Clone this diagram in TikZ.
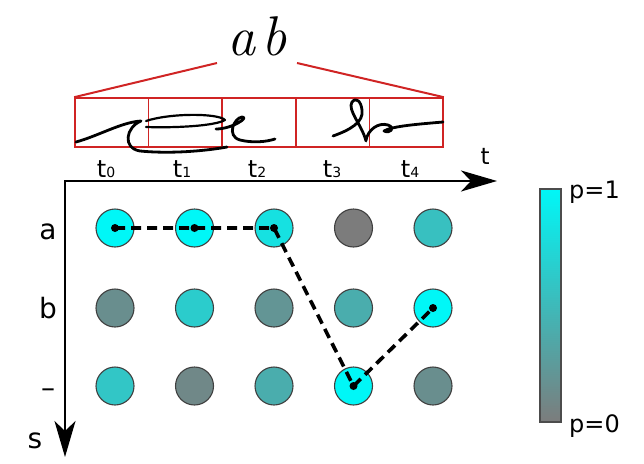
\documentclass[tikz,border=0pt]{standalone}
\usepackage{fontspec}
\setmainfont{DejaVu Sans}
\newfontfamily\handfont{Latin Modern Roman}
\usepackage{tikz}
\usetikzlibrary{positioning,arrows.meta,calc}
\definecolor{pone}{HTML}{00F7F7}
\definecolor{pzero}{HTML}{7C7C7C}
\definecolor{framered}{HTML}{D02424}

\begin{document}
\begin{tikzpicture}[x=1pt,y=-1pt,
  prob/.style={circle,draw=black!75,line width=1.1pt,minimum size=38pt,inner sep=0pt},
  cell/.style={draw=framered,line width=1.6pt,minimum width=73.6pt,minimum height=49pt,inner sep=0pt},
  frame/.style={framered,line width=2pt},
  lbl/.style={font=\fontsize{28}{28}\selectfont,anchor=base,inner sep=0pt},
  tick/.style={font=\fontsize{24}{24}\selectfont,anchor=base,inner sep=0pt},
  axis/.style={line width=2pt,{Stealth[length=36pt,width=21pt,inset=10pt]}-{Stealth[length=36pt,width=21pt,inset=10pt]}},
  route/.style={line width=3.6pt,dash pattern=on 10pt off 6pt},
  pen/.style={line width=2.8pt,line cap=round,line join=round},
  cbar/.style={draw=black!70,line width=1.1pt,top color=pone,bottom color=pzero,
               minimum width=21pt,minimum height=233pt,inner sep=0pt}]
\useasboundingbox (0,0) rectangle (644,463);

% handwritten word and its frames
\node[font=\fontsize{56}{56}\selectfont\handfont\itshape,inner sep=0pt] (word) at (257,36) {a\hspace{6pt}b};
\coordinate (wl) at (217,63);
\coordinate (wr) at (297,63);
\foreach \i in {0,...,4}
  \node[cell] (f\i) at ({111.8+73.6*\i},122.5) {};
\draw[frame] (f0.north west) -- (wl);
\draw[frame] (f4.north east) -- (wr);
% pen trace
\draw[pen] (76,142) .. controls (98,136) and (122,122) .. (141,121)
  .. controls (126,127) and (122,148) .. (140,151)
  .. controls (170,154) and (205,151) .. (227,147);
\draw[pen,line width=2.2pt] (146,127) .. controls (175,128) and (215,126) .. (225,120)
  .. controls (218,113) and (170,113) .. (146,121);
\draw[pen] (216,129) .. controls (232,129) and (250,117) .. (242,117)
  .. controls (234,118) and (226,136) .. (240,140)
  .. controls (252,143) and (266,142) .. (275,139);
\draw[pen] (333,136) .. controls (350,130) and (364,122) .. (362,110)
  .. controls (361,101) and (356,97) .. (352,102)
  .. controls (347,110) and (362,125) .. (366,141);
\draw[pen] (366,140) .. controls (368,130) and (378,122) .. (388,125)
  .. controls (396,128) and (390,134) .. (384,131)
  .. controls (392,126) and (420,124) .. (443,122);

% time labels
\node[tick] (t0) at (106,177) {t{\fontsize{14}{14}\selectfont 0}};
\node[tick] (t1) at (182,177) {t{\fontsize{14}{14}\selectfont 1}};
\node[tick] (t2) at (257,177) {t{\fontsize{14}{14}\selectfont 2}};
\node[tick] (t3) at (332,177) {t{\fontsize{14}{14}\selectfont 3}};
\node[tick] (t4) at (410,177) {t{\fontsize{14}{14}\selectfont 4}};

% axes
\coordinate (origin) at (65,181);
\coordinate (tend) at (497,181);
\coordinate (send) at (65,457);
\draw[axis] (tend) -- (origin) -- (send);
\node[lbl,font=\fontsize{23}{23}\selectfont] (tlab) at (485,164) {t};
\node[lbl] (slab) at (35,448) {s};
\node[lbl] (la) at (48,239) {a};
\node[lbl] (lb) at (48,318) {b};
\node[lbl] (le) at (48,397) {–};

% probability grid
\foreach \r/\y/\plist in {a/228/{100,100,82,0,55},b/308/{15,65,20,40,100},e/386/{60,10,40,100,15}}
  \foreach \p [count=\i from 0] in \plist
    \node[prob,fill=pone!\p!pzero] (\r\i) at ({115+79.5*\i},\y) {};

% best path
\draw[route] (a0.center) -- (a1.center) -- (a2.center) -- (e3.center) -- (b4.center);
\foreach \n in {a0,a1,a2,e3,b4}
  \fill (\n.center) circle (4pt);

% colour scale
\node[cbar] (bar) at (550.5,305.5) {};
\node[font=\fontsize{24}{24}\selectfont,anchor=base west,inner sep=0pt] (ptop) at (569,198) {p=1};
\node[font=\fontsize{24}{24}\selectfont,anchor=base west,inner sep=0pt] (pbot) at (569,432) {p=0};
\end{tikzpicture}
\end{document}
